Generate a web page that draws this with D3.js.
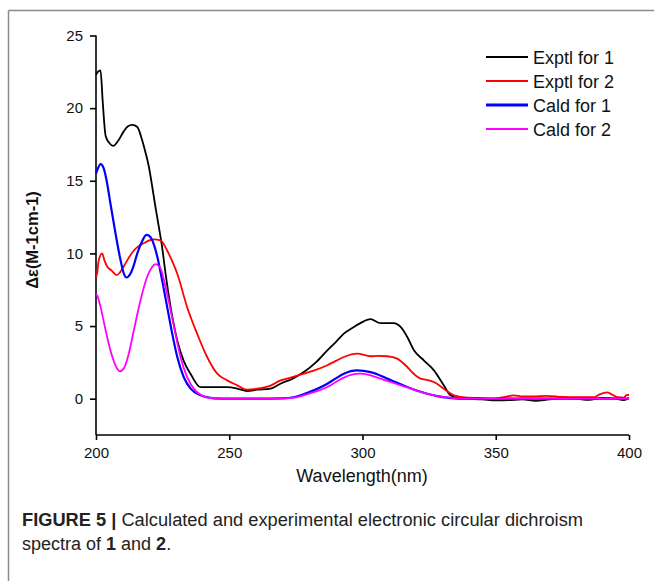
<!DOCTYPE html>
<html>
<head>
<meta charset="utf-8">
<script src="https://cdn.jsdelivr.net/npm/d3@7"></script>
<style>
  html, body { margin: 0; padding: 0; background: #fff; }
  svg { display: block; font-family: "Liberation Sans", Arial, sans-serif; }
</style>
</head>
<body>
<svg id="chart" width="654" height="581"></svg>
<script>
// ---- data (wavelength nm, Δε) ----
const exptl1 = [
  [200,22.3],[200.7,22.5],[201.7,22.6],[202.5,20.5],[203.6,18.1],[205,17.6],[206.5,17.4],[208.5,17.8],
  [210.4,18.4],[212,18.75],[213.6,18.85],[215.5,18.7],[217.3,17.8],[218.5,17.0],[219.8,16.0],[221.1,14.6],
  [222.3,13.2],[223.6,11.8],[224.8,10.45],[226.1,8.6],[228,6.3],[230.5,4.0],[232.9,2.6],[235.5,1.7],
  [239.2,0.8],[244.2,0.8],[249.2,0.8],[253,0.7],[256.7,0.52],[260.5,0.62],[265.5,0.7],[269.2,1.03],
  [274,1.4],[278,1.83],[282.5,2.5],[286.8,3.33],[290,3.9],[293,4.48],[296,4.85],[299.2,5.2],[303,5.47],
  [306.8,5.2],[311.7,5.2],[314.3,4.94],[316.8,4.25],[319.3,3.33],[323,2.64],[326.8,1.95],[330.5,0.92],
  [333,0.23],[336.8,0],[340,-0.02],[345,-0.05],[350,-0.12],[355,-0.1],[360,-0.05],[365,-0.15],[370,-0.05],
  [375,0.02],[380,0.0],[385,-0.08],[390,0.05],[395,0],[398,-0.1],[400,0.05]
];
const exptl2 = [
  [200,8.4],[200.4,8.6],[201,9.5],[202.3,10.0],[203.2,9.5],[204.2,9.1],[206,8.8],[207.7,8.5],[209,8.7],
  [210.4,9.1],[212.3,9.7],[214.2,10.2],[216,10.5],[217.9,10.7],[220,10.9],[221.7,10.97],[224.2,10.9],
  [226.7,10.2],[228.5,9.5],[230.5,8.6],[234.2,6.3],[237.9,4.5],[241.7,2.87],[245.5,1.72],[249.2,1.26],
  [253,0.92],[256.7,0.62],[261.7,0.72],[265.5,0.9],[269.2,1.26],[273,1.45],[278,1.72],[282,1.95],
  [286.8,2.3],[290,2.6],[293,2.87],[298,3.1],[303,2.92],[306,2.95],[309.3,2.92],[313,2.76],[316.8,2.18],
  [319,1.75],[321.8,1.38],[324,1.3],[326.8,1.15],[330.5,0.69],[334.3,0.23],[339.3,0.07],[344,0.05],
  [349.3,0.0],[353,0.1],[356.8,0.23],[360,0.15],[364.3,0.16],[369.3,0.2],[375,0.12],[380.6,0.1],
  [386.8,0.1],[389,0.3],[391.8,0.43],[393.5,0.3],[395.6,0.1],[398.1,0.07],[399,0.25],[400,0.27]
];
const cald1 = [
  [200,15.5],[200.4,15.7],[201.7,16.15],[202.9,15.86],[204.2,14.8],[205.4,13.45],[207.3,11.4],[209.2,9.54],
  [210.3,8.7],[211.4,8.34],[212.9,8.6],[214.2,9.2],[215.5,10.0],[217.2,10.8],[218.9,11.28],[220,11.2],
  [221.1,10.9],[223,9.77],[224.8,8.16],[226.7,6.32],[228.6,4.48],[230.5,2.87],[232.9,1.49],[235.5,0.69],
  [239.2,0.23],[244.2,0.02],[250,0],[260,0],[270,0.02],[274.2,0.1],[280,0.45],[286.8,1.03],[290,1.4],
  [293,1.72],[298,1.95],[303,1.83],[306,1.65],[309.3,1.38],[313,1.1],[316.8,0.8],[320,0.58],[324.3,0.34],
  [328,0.18],[331.8,0.07],[336.8,0],[350,0],[375,0],[400,0]
];
const cald2 = [
  [200,7.2],[200.4,7.12],[201.7,6.32],[203.6,4.71],[205.4,3.33],[207.3,2.3],[208.9,1.88],[210.4,2.07],
  [212.3,3.1],[214.2,4.71],[216.7,6.78],[219.2,8.39],[221,9.05],[222.3,9.26],[224.2,8.97],[226.1,7.7],
  [228,6.09],[229.8,4.48],[231.7,2.87],[234.2,1.49],[236.7,0.69],[240.4,0.16],[244,0.03],[248,0],[260,0],
  [270,0.02],[274.2,0.07],[280,0.35],[286.8,0.8],[290,1.15],[293,1.45],[296,1.65],[299.2,1.72],[301.5,1.68],
  [304.2,1.54],[308,1.3],[311.7,1.08],[315.5,0.85],[319.3,0.62],[323,0.4],[326.8,0.23],[330,0.12],
  [334.3,0.04],[340,0],[360,0],[380,0],[400,0]
];
const seriesNames = ["Exptl for 1", "Exptl for 2", "Cald for 1", "Cald for 2"];
const seriesColors = ["#000000", "#ff0000", "#0000ff", "#ff00ff"];
const seriesData = [exptl1, exptl2, cald1, cald2];
const xTicks = [200, 250, 300, 350, 400];
const xMinorTicks = [225, 275, 325, 375];
const yTicks = [0, 5, 10, 15, 20, 25];
const yMinorTicks = [-2.5, 2.5, 7.5, 12.5, 17.5, 22.5];
const xTitle = "Wavelength(nm)";
const yTitle = "Δε(M-1cm-1)";

// ---- drawing ----
const svg = d3.select("#chart");

// figure frame (top and left rules)
svg.append("line").attr("x1", 8.5).attr("x2", 654).attr("y1", 10.5).attr("y2", 10.5)
  .attr("stroke", "#8a8a8a").attr("stroke-width", 1.5);
svg.append("line").attr("x1", 8.5).attr("x2", 8.5).attr("y1", 10.5).attr("y2", 581)
  .attr("stroke", "#8a8a8a").attr("stroke-width", 1.5);

const x = d3.scaleLinear().domain([200, 400]).range([96, 629]);
const y = d3.scaleLinear().domain([-2.5, 25]).range([435, 35.5]);

const gx = svg.append("g").attr("transform", `translate(0,${y(-2.5)})`);
gx.call(d3.axisBottom(x).tickValues(xMinorTicks).tickSize(3).tickFormat(""));
gx.call(d3.axisBottom(x).tickValues(xTicks).tickSize(5).tickPadding(7).tickFormat(d3.format("d")));
gx.selectAll(".domain").attr("d", `M${x(200)},0H${x(400)}`);
const gy = svg.append("g").attr("transform", `translate(${x(200)},0)`);
gy.call(d3.axisLeft(y).tickValues(yMinorTicks).tickSize(4).tickFormat(""));
gy.call(d3.axisLeft(y).tickValues(yTicks).tickSize(6).tickPadding(7).tickFormat(d3.format("d")));
gy.selectAll(".domain").attr("d", `M0,${y(-2.5)}V${y(25)}`);
[gx, gy].forEach(g => {
  g.selectAll("path, line").attr("stroke", "#000").attr("stroke-width", 1.6);
  g.selectAll("text").attr("font-size", 15).attr("fill", "#111")
    .attr("font-family", "'Liberation Sans', Arial, sans-serif");
});

// axis titles
svg.append("text").attr("x", 362).attr("y", 482).attr("text-anchor", "middle")
  .attr("font-size", 18).attr("fill", "#111").text(xTitle);
svg.append("text").attr("transform", `translate(38,${240}) rotate(-90)`)
  .attr("text-anchor", "middle").attr("font-size", 16.5).attr("font-weight", "bold")
  .attr("fill", "#111").text(yTitle);

// curves
const line = d3.line().x(d => x(d[0])).y(d => y(d[1])).curve(d3.curveMonotoneX);
const widths = [1.8, 1.8, 2.2, 1.8];
seriesData.forEach((s, i) => {
  svg.append("path").datum(s).attr("d", line).attr("fill", "none")
    .attr("stroke", seriesColors[i]).attr("stroke-width", widths[i])
    .attr("stroke-linejoin", "round");
});

// legend
const lg = svg.append("g");
seriesNames.forEach((n, i) => {
  const yy = 57 + i * 24;
  lg.append("line").attr("x1", 486).attr("x2", 528).attr("y1", yy).attr("y2", yy)
    .attr("stroke", seriesColors[i]).attr("stroke-width", i === 2 ? 3 : 2);
  lg.append("text").attr("x", 533).attr("y", yy + 6.5).attr("font-size", 18).attr("fill", "#111").text(n);
});

// caption
const cap1 = svg.append("text").attr("x", 22).attr("y", 526).attr("font-size", 18).attr("fill", "#222")
  .attr("textLength", 561).attr("lengthAdjust", "spacingAndGlyphs");
cap1.append("tspan").attr("font-weight", "bold").text("FIGURE 5 | ");
cap1.append("tspan").text("Calculated and experimental electronic circular dichroism");
const cap2 = svg.append("text").attr("x", 22).attr("y", 550).attr("font-size", 18).attr("fill", "#222");
cap2.append("tspan").text("spectra of ");
cap2.append("tspan").attr("font-weight", "bold").text("1");
cap2.append("tspan").text(" and ");
cap2.append("tspan").attr("font-weight", "bold").text("2");
cap2.append("tspan").text(".");
</script>
</body>
</html>
